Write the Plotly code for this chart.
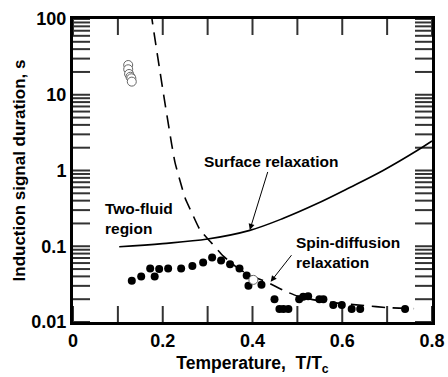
import plotly.graph_objects as go

# Spin-diffusion data (filled circles)
dot_T = [0.131, 0.152, 0.172, 0.182, 0.192, 0.212, 0.241, 0.266, 0.290, 0.310,
         0.330, 0.350, 0.371, 0.387, 0.391, 0.420, 0.449, 0.460, 0.469,
         0.480, 0.504, 0.513, 0.524, 0.549, 0.558, 0.580, 0.599, 0.621, 0.640, 0.740]
dot_s = [0.035, 0.040, 0.051, 0.040, 0.050, 0.051, 0.051, 0.055, 0.061, 0.071,
         0.065, 0.058, 0.051, 0.041, 0.030, 0.031, 0.020, 0.0149, 0.0149,
         0.0149, 0.020, 0.0215, 0.0218, 0.020, 0.020, 0.0168, 0.0168, 0.0149, 0.0149, 0.0149]

# open circles
open_T = [0.123, 0.123, 0.125, 0.128, 0.130, 0.131, 0.402]
open_s = [24.7, 21.7, 18.8, 17.3, 16.5, 14.9, 0.036]

# dashed curve (spin-diffusion relaxation)
dash_T = [0.174, 0.1765, 0.20, 0.22, 0.227, 0.238, 0.25, 0.265, 0.283, 0.309, 0.335,
          0.37, 0.40, 0.43, 0.47, 0.50, 0.55, 0.60, 0.65, 0.70, 0.76]
dash_s = [125, 95, 11.8, 2.2, 1.3, 0.75, 0.43, 0.275, 0.165, 0.11, 0.074,
          0.05, 0.04, 0.034, 0.026, 0.022, 0.019, 0.0175, 0.0165, 0.0155, 0.015]

# solid curve (surface relaxation)
surf_T = [0.103, 0.2, 0.3, 0.394, 0.469, 0.543, 0.617, 0.691, 0.766, 0.80]
surf_s = [0.0986, 0.1084, 0.1245, 0.162, 0.234, 0.363, 0.596, 1.0, 1.82, 2.45]

x_major = [0, 0.2, 0.4, 0.6, 0.8]
x_labels = ["0", "0.2", "0.4", "0.6", "0.8"]
x_minor = [0.1, 0.3, 0.5, 0.7]
y_major = [0.01, 0.1, 1, 10, 100]
y_labels = ["0.01", "0.1", "1", "10", "100"]
y_minor_mult = [2, 3, 4, 5, 6, 7, 8, 9]

FONT = "Liberation Sans, Arial, sans-serif"
X_RANGE = [0, 0.8]
Y_RANGE_LOG = [-2, 2]

y_all_ticks = list(y_major)
for d in y_major[:-1]:
    for m in y_minor_mult:
        y_all_ticks.append(d * m)
x_all_ticks = x_major + x_minor

# inside tick marks on all four sides, drawn as line traces through the axes
W_PLOT, H_PLOT = 448 - 73 - 16, 377 - 19 - 55
k = 10 ** ((16 / H_PLOT) * (Y_RANGE_LOG[1] - Y_RANGE_LOG[0]))
dx = (17 / W_PLOT) * (X_RANGE[1] - X_RANGE[0])
y_lo, y_hi = 10 ** Y_RANGE_LOG[0], 10 ** Y_RANGE_LOG[1]
tick_x, tick_y = [], []
for v in x_all_ticks:
    tick_x += [v, v, None, v, v, None]
    tick_y += [y_lo, y_lo * k, None, y_hi, y_hi / k, None]
for v in y_all_ticks:
    tick_x += [X_RANGE[0], X_RANGE[0] + dx, None, X_RANGE[1] - dx, X_RANGE[1], None]
    tick_y += [v, v, None, v, v, None]

fig = go.Figure()
fig.add_trace(go.Scatter(x=tick_x, y=tick_y, mode="lines", connectgaps=False,
                         line=dict(color="#333", width=2), hoverinfo="skip", showlegend=False))
fig.add_trace(go.Scatter(x=dash_T, y=dash_s, mode="lines",
                         line=dict(color="black", width=1.6, dash="13px,8px", shape="spline", smoothing=0.6),
                         hoverinfo="skip", showlegend=False))
fig.add_trace(go.Scatter(x=surf_T, y=surf_s, mode="lines",
                         line=dict(color="black", width=1.6, shape="spline"),
                         showlegend=False))
fig.add_trace(go.Scatter(x=dot_T, y=dot_s, mode="markers",
                         marker=dict(color="black", size=8, line=dict(width=0)),
                         showlegend=False))
fig.add_trace(go.Scatter(x=open_T, y=open_s, mode="markers",
                         marker=dict(color="white", size=9, line=dict(color="#666", width=1)),
                         showlegend=False))

afont = dict(family=FONT, size=15.5, color="black", weight="bold")
annots = [
    dict(x=0.394, y=-0.785, text="Surface relaxation", showarrow=True, ax=21, ay=-68,
         arrowhead=2, arrowsize=1.2, arrowwidth=1, arrowcolor="black", standoff=0),
    dict(x=0.067, y=-0.634, text="Two-fluid<br>region", showarrow=False,
         xanchor="left", align="left"),
    dict(x=0.492, y=-1.083, text="Spin-diffusion<br>relaxation", showarrow=False,
         xanchor="left", align="left"),
    dict(x=0.4405, y=-1.468, text="", showarrow=True, ax=22, ay=-28,
         arrowhead=2, arrowsize=1.2, arrowwidth=1, arrowcolor="black"),
]
for a in annots:
    a.update(xref="x", yref="y", font=afont)

fig.update_layout(
    annotations=annots,
    width=448, height=377,
    margin=dict(l=73, r=16, t=19, b=55),
    paper_bgcolor="white", plot_bgcolor="white",
    font=dict(family=FONT, color="black"),
    xaxis=dict(range=X_RANGE, tickvals=x_major, ticktext=x_labels, ticks="",
               showline=True, linewidth=3, linecolor="black", mirror=True,
               showgrid=False, zeroline=False, automargin=False,
               tickfont=dict(size=18, weight="bold"),
               title=dict(text="Temperature,  T/T<sub>c</sub>", font=dict(size=17.5, weight="bold"), standoff=8)),
    yaxis=dict(type="log", range=Y_RANGE_LOG, tickvals=y_major, ticktext=y_labels, ticks="",
               showline=True, linewidth=3, linecolor="black", mirror=True,
               showgrid=False, zeroline=False, automargin=False,
               tickfont=dict(size=18, weight="bold"),
               title=dict(text="Induction signal duration, s", font=dict(size=17, weight="bold"), standoff=2)),
)

fig.write_html("out.html")
